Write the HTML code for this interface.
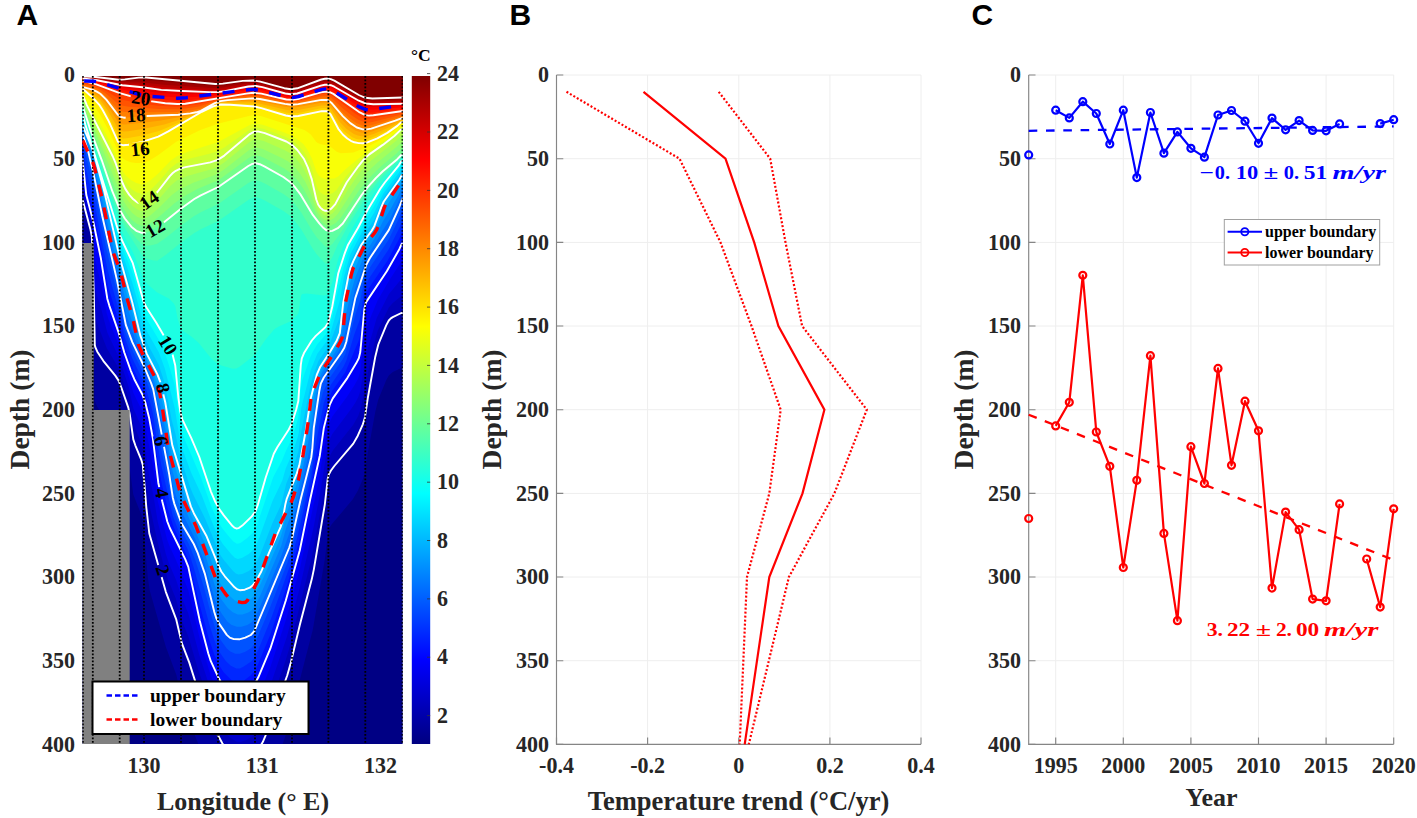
<!DOCTYPE html><html><head><meta charset="utf-8"><style>html,body{margin:0;padding:0;background:#fff;width:1417px;height:818px;overflow:hidden}svg{display:block}text{font-family:"Liberation Serif",serif;font-weight:bold;fill:#262626}.sans{font-family:"Liberation Sans",sans-serif}</style></head><body>
<svg width="1417" height="818" viewBox="0 0 1417 818">
<defs><clipPath id="ca"><rect x="82.3" y="76" width="320.5" height="668"/></clipPath>
<linearGradient id="cb" x1="0" y1="1" x2="0" y2="0">
<stop offset="0.0000" stop-color="#000080"/>
<stop offset="0.1250" stop-color="#0000ff"/>
<stop offset="0.2500" stop-color="#0080ff"/>
<stop offset="0.3750" stop-color="#00ffff"/>
<stop offset="0.5000" stop-color="#80ff80"/>
<stop offset="0.6250" stop-color="#ffff00"/>
<stop offset="0.7500" stop-color="#ff8000"/>
<stop offset="0.8750" stop-color="#ff0000"/>
<stop offset="1.0000" stop-color="#800000"/>
</linearGradient></defs>
<text class="sans" x="16.5" y="24.6" font-size="30" style="font-family:'Liberation Sans',sans-serif;fill:#000">A</text>
<text class="sans" x="509.5" y="24.6" font-size="30" style="font-family:'Liberation Sans',sans-serif;fill:#000">B</text>
<text class="sans" x="971.5" y="24.6" font-size="30" style="font-family:'Liberation Sans',sans-serif;fill:#000">C</text>
<g clip-path="url(#ca)">
<rect x="82.3" y="76" width="320.5" height="668" fill="#000084"/><path d="M82.3 75 L82.3 255 L90.3 283.9 L91.8 291.3 L93.8 348.6 L94.8 400 L95.3 402.2 L97.3 406.7 L103.3 415.8 L115.3 430.6 L118.3 435.1 L128.3 462.6 L129.8 469.5 L133.3 494.4 L141.3 514.8 L142.8 519.9 L147.8 577.3 L149.8 590.7 L165.8 646.8 L176.3 674.7 L181.3 696.6 L189.3 717.6 L194.8 735.2 L198.8 745 L282.3 744.8 L286.3 733.4 L290.3 719.6 L299.8 680 L312.8 629.8 L324.8 559.6 L328.3 531 L329.8 527.3 L331.8 524.3 L352.8 499.3 L357.8 490.7 L362.8 479.3 L364.8 473.1 L367.8 453 L375.3 411.7 L378.3 399.5 L386.3 380.1 L388.8 375.5 L392.8 372.1 L401.3 368 L402.8 368 L402.8 75Z" fill="#0000a1"/><path d="M82.3 75 L82.3 200 L90.3 228.9 L91.8 236.3 L93.8 293.6 L94.8 345 L95.3 347.2 L97.3 351.7 L103.3 360.8 L115.3 375.6 L118.3 380.1 L127.8 405.9 L129.8 414.5 L133.3 439.4 L141.3 459.8 L142.8 464.9 L148.3 527.1 L150.8 539.5 L165.8 591.8 L176.3 619.7 L181.3 641.6 L189.3 662.6 L194.3 678.8 L213.8 726.9 L223.3 745 L260.8 745 L263.8 739.9 L287.3 675.2 L311.8 579.1 L324.8 504.6 L327.8 478.4 L328.8 474.5 L330.8 470.7 L334.3 466 L353.3 443.6 L357.8 435.7 L362.8 424.3 L364.8 418.1 L367.8 398 L375.3 356.7 L378.3 344.5 L386.3 325.1 L388.8 320.5 L392.8 317.1 L401.3 313 L402.8 313 L402.8 75Z" fill="#0000b7"/><path d="M82.3 75 L82.3 189.4 L86.3 209.6 L91.8 231.2 L93.8 276.2 L94.8 315.9 L96.3 321.4 L106.8 348.2 L116.8 365 L119.8 371.7 L128.8 398.4 L133.3 423.8 L142.3 445.7 L143.3 450.2 L145.8 477.4 L148.8 502.3 L157.8 543 L164.8 569.4 L167.8 578.9 L175.8 598.6 L181.3 619 L188.3 636.6 L198.8 671.8 L211.8 707.5 L217.8 720.4 L224.8 732.3 L230.3 737.8 L236.8 741.7 L240.8 741.9 L246.3 740 L251.8 736.8 L256.3 732.7 L260.3 727.6 L262.8 723.3 L269.8 705.5 L284.8 663.1 L288.8 650 L311.8 557.3 L320.3 511.8 L325.3 481.4 L327.8 461.7 L328.8 457.9 L332.8 450.5 L353.3 424.8 L358.3 415.8 L360.8 408.6 L368.3 371 L375.8 337.4 L377.8 330.6 L388.8 307.4 L392.8 303 L401.3 296 L402.8 295.5 L402.8 75Z" fill="#0000cd"/><path d="M82.3 75 L82.3 178.8 L86.3 204.8 L91.8 226 L93.8 258.8 L94.8 286.9 L95.3 289.2 L101.8 310.9 L107.3 332.4 L118.8 357.2 L128.8 387.3 L133.3 408.2 L142.8 430.1 L148.8 473.7 L153.3 494.9 L157.8 521.9 L165.8 553.8 L168.8 562.9 L176.3 580.5 L181.3 596.4 L188.3 613.4 L199.3 655.1 L211.3 691.7 L218.3 706.6 L223.8 716.1 L229.8 722.3 L233.8 725.5 L236.8 727 L240.3 727.1 L244.3 725.4 L250.8 721.2 L255.3 716.9 L262.3 705.5 L269.8 687.1 L286.8 637 L300.3 585.6 L313.8 526.2 L320.3 492.2 L327.3 448.1 L328.8 441.2 L332.3 433.9 L350.8 409.6 L355.3 402.7 L358.3 397 L360.3 391 L364.3 364.8 L367.3 350.6 L376.8 317.7 L388.8 294.2 L401.8 278.4 L402.8 278 L402.8 75Z" fill="#0000e3"/><path d="M82.3 75 L82.3 168.2 L86.3 199.9 L91.3 218.8 L92.3 224.4 L94.8 257.9 L101.8 287.1 L106.8 313.5 L108.8 320.1 L118.8 345.2 L129.3 377.9 L133.3 392.7 L141.8 410.3 L143.3 414.4 L152.8 465.2 L157.8 500.9 L166.8 538.5 L169.3 545.5 L176.3 560.8 L188.3 590.2 L199.8 638.8 L210.8 675.9 L218.3 692 L222.8 699.8 L229.8 707.3 L233.8 710.7 L236.8 712.3 L239.3 712.5 L242.8 710.9 L250.3 705.3 L254.8 700.8 L262.3 686.7 L270.3 667.2 L286.3 618.7 L299.8 569 L319.3 477.9 L323.3 451.4 L329.3 423 L332.3 416.5 L346.8 397 L354.3 385.4 L358.3 378.2 L360.3 371.5 L364.3 337.1 L367.8 323.9 L377.8 300 L389.8 279.5 L401.8 261.1 L402.8 260.5 L402.8 75Z" fill="#0000f9"/><path d="M82.3 75 L82.3 157.6 L86.3 195.1 L93.3 221.8 L100.8 257.9 L107.3 298.7 L118.3 331.6 L124.3 352.5 L130.8 370.8 L134.3 379.2 L142.8 395.4 L145.3 402.6 L149.3 418.8 L152.8 438 L158.3 482.7 L162.3 501.5 L167.3 521.5 L169.8 528 L185.3 559.3 L188.3 566.9 L199.8 620.9 L208.3 653.5 L210.8 661.2 L218.8 678.3 L222.3 684.4 L231.8 694.2 L236.8 697.7 L239.3 697.7 L242.3 696 L250.8 688.6 L254.8 684.1 L258.3 677.3 L270.3 648.7 L285.8 600.5 L299.8 550.3 L310.3 498.7 L319.8 455.7 L323.8 428.1 L329.8 404.6 L332.8 398.4 L347.3 378.1 L358.8 358.2 L360.3 352 L364.3 309.5 L366.3 301.9 L386.8 271.3 L399.3 249.2 L401.8 243.7 L402.8 243 L402.8 75Z" fill="#0011ff"/><path d="M82.3 75 L82.3 151.8 L86.3 182.7 L92.3 205.3 L95.3 218.9 L101.8 250.9 L107.8 285.6 L117.8 318.5 L126.3 350.4 L133.3 368.9 L143.8 389.8 L148.3 404.9 L153.3 428.5 L158.3 465.9 L162.3 485.9 L167.8 509.1 L173.8 527.6 L188.3 558.9 L199.8 605.3 L208.8 638.8 L214.3 654.7 L219.3 665.4 L223.8 672.4 L230.8 679.5 L234.3 682 L236.8 683.1 L239.3 683.1 L242.8 681.4 L250.8 675.2 L254.3 671.4 L257.8 664.7 L270.3 634.7 L287.8 583 L299.3 540.5 L311.8 482.5 L313.8 469.1 L320.3 436.2 L323.3 417.6 L328.8 398.6 L332.3 390.8 L345.3 372.3 L358.8 340.4 L360.3 334.6 L364.3 299.7 L366.3 292.7 L369.3 287.4 L387.8 260.2 L398.8 239.6 L401.8 232.9 L402.8 232 L402.8 75Z" fill="#0027ff"/><path d="M82.3 75 L82.3 145.9 L86.3 170.2 L94.8 204.1 L107.3 268.4 L117.8 307 L124.8 337.3 L132.3 358.4 L144.3 383.1 L151.3 406.4 L153.3 415.5 L157.3 443.2 L161.8 467.8 L172.8 515.9 L179.8 533.9 L187.3 548.6 L189.3 553.6 L194.8 571.2 L210.3 627.8 L215.8 644.6 L220.3 653.3 L225.8 661 L230.8 665.7 L236.3 668.4 L239.8 668.4 L243.8 666.5 L250.8 661.8 L254.3 658 L257.8 650.9 L271.3 618.1 L289.8 566.3 L297.8 534.9 L311.3 475.7 L314.3 452.4 L323.8 402.8 L330.8 384.8 L343.3 366.9 L346.3 360.7 L354.3 334.4 L359.8 319.5 L364.3 290 L366.3 283.4 L369.8 277.2 L388.3 249.9 L398.8 229.1 L402.3 221 L402.8 221 L402.8 75Z" fill="#003dff"/><path d="M82.3 75 L82.3 140.1 L93.8 187.2 L106.8 251 L117.3 293.4 L125.8 332.9 L132.8 351.4 L144.8 376.2 L149.8 390.2 L152.8 400.4 L162.3 454.7 L173.8 510.5 L180.3 527.9 L188.8 543.9 L195.3 560 L204.3 588.5 L211.8 617.3 L216.3 632 L220.8 640.2 L226.8 648.5 L230.3 651.6 L235.3 653.7 L239.8 653.8 L245.3 651.7 L251.3 648 L254.8 643.8 L269.8 608 L287.3 563.1 L291.8 549.4 L311.3 466.4 L314.3 438.2 L319.8 404.9 L322.8 392.8 L330.3 377 L342.3 359.9 L345.3 354.3 L354.8 316.5 L360.3 299.9 L364.3 280.3 L366.8 273 L370.3 266.9 L388.8 239.6 L399.3 217.5 L402.3 210 L402.8 210 L402.8 75Z" fill="#0053ff"/><path d="M82.3 75 L82.3 134.3 L82.8 134.3 L88.3 151.7 L93.8 174.9 L102.3 216.2 L117.3 281.6 L125.8 324.9 L132.3 342.1 L144.8 368 L153.3 389.6 L169.3 474.9 L172.8 497.7 L174.3 503.6 L181.3 522.9 L193.8 544 L197.8 553.2 L204.8 573.6 L214.3 612 L216.3 618.3 L219.3 623.9 L226.8 634.9 L229.8 637.6 L233.8 639.1 L239.3 639.3 L245.3 637.7 L250.8 635 L254.3 631.2 L289.3 547.5 L291.8 539.4 L300.3 500.7 L311.3 457.2 L313.8 427.8 L320.8 383.6 L323.8 377.5 L341.3 352.8 L344.3 347.8 L346.3 341.7 L355.3 298.1 L366.3 264.9 L369.8 258.2 L388.8 230.1 L399.3 207 L402.3 199 L402.8 199 L402.8 75Z" fill="#0069ff"/><path d="M82.3 75 L82.3 132.2 L82.8 132.2 L88.3 148.6 L94.3 171.5 L116.8 270.9 L125.8 313.5 L136.8 344 L151.8 379.6 L153.8 385.6 L159.3 410.6 L168.8 460.4 L172.3 482.4 L174.3 490.8 L181.3 511 L195.8 540.3 L203.3 559.1 L214.8 599.5 L216.8 604.9 L221.3 613.1 L227.3 621.4 L231.3 624.7 L236.8 626.8 L241.3 626.8 L247.3 624.9 L251.3 622.6 L254.3 619.3 L259.8 607.5 L281.8 554.8 L291.8 526 L306.3 464.7 L311.8 439 L313.8 417.3 L318.8 388.1 L320.8 379.2 L323.3 374.2 L337.3 353.7 L340.3 348.3 L345.8 330 L354.8 289.6 L365.8 259.2 L368.3 254.3 L374.3 245.2 L382.3 231.1 L389.8 219.4 L402.3 193 L402.8 193 L402.8 75Z" fill="#0080ff"/><path d="M82.3 75 L82.3 130 L82.8 130 L88.3 145.6 L94.3 166 L126.3 303.8 L139.8 345.6 L153.3 378.1 L157.8 393.9 L165.3 428.5 L172.3 470.1 L175.3 481.2 L180.8 497.7 L189.8 520.3 L196.8 534.6 L204.3 551.9 L214.8 585.2 L217.8 592.7 L221.8 600 L227.8 607.9 L232.8 612.2 L237.8 614.5 L242.3 614.4 L248.3 612.5 L251.8 610.2 L254.8 606.5 L260.8 594.3 L281.3 545.8 L285.8 529 L291.8 512.6 L299.3 485.2 L306.8 449.8 L311.8 423.7 L314.3 403.9 L320.3 376.1 L322.8 371 L336.3 350.6 L339.8 344.1 L342.8 328.1 L351.3 291.3 L355.3 277.5 L362.3 259.9 L366.8 250.4 L374.8 238 L382.8 221.4 L390.3 209.6 L399.3 193.3 L401.8 187.8 L402.8 187 L402.8 75Z" fill="#0096ff"/><path d="M82.3 75 L82.3 127.9 L82.8 127.9 L88.8 143.8 L94.3 160.4 L104.3 199.9 L124.8 286.9 L139.3 338 L146.3 357.4 L154.3 374.8 L159.3 389.5 L165.3 415.5 L172.3 457.7 L180.3 484.2 L190.8 514.5 L205.3 544.1 L215.3 572.2 L219.8 582.6 L223.3 588.3 L229.3 595.5 L234.8 600.5 L238.8 602.3 L243.3 602.1 L248.8 600.3 L251.8 598.2 L254.8 594.6 L260.8 583.5 L280.8 536.8 L282.8 530.1 L286.3 513.9 L292.8 496.3 L299.3 475.2 L305.8 442.7 L313.8 396.2 L317.8 379.1 L321.3 369.4 L336.3 345.9 L339.8 338.6 L343.3 314 L349.3 285.7 L352.3 275.5 L361.3 253.5 L365.8 245.3 L374.3 232.6 L383.3 211.5 L398.3 188.1 L401.8 181.5 L402.8 181 L402.8 75Z" fill="#00acff"/><path d="M82.3 75 L82.3 125.8 L82.8 125.8 L91.8 147.5 L95.3 158.4 L104.3 191.5 L118.8 253.9 L132.3 302.6 L140.3 335.4 L146.8 353.9 L157.3 374.1 L160.3 382.1 L165.3 402.5 L172.3 445.3 L190.8 506.4 L193.8 513.2 L206.3 535.7 L221.3 571.5 L224.8 576.3 L234.3 587.1 L237.3 589.4 L239.8 590.2 L244.8 589.7 L249.8 587.7 L252.8 585.2 L256.8 579.7 L261.3 571.5 L269.3 552.1 L280.8 526.6 L282.3 521.6 L286.8 498.6 L296.8 473.4 L299.3 465.3 L305.8 430.6 L310.8 398 L316.8 374.7 L320.3 366.7 L336.8 340.4 L339.8 333.2 L343.3 302.1 L350.3 268.4 L361.3 244.9 L371.8 230.5 L374.3 226.2 L383.8 201.5 L399.3 179.7 L401.8 175.2 L402.8 175 L402.8 75Z" fill="#00c2ff"/><path d="M82.3 75 L82.3 123 L82.8 123 L94.8 156.2 L104.3 190.1 L118.8 248.5 L132.3 292.4 L141.8 329 L147.3 343.5 L158.8 364.9 L163.3 378.8 L165.3 386.4 L171.8 420.4 L175.3 433.3 L180.3 456.9 L189.8 486.2 L192.8 493.8 L205.3 518.9 L220.3 554.9 L223.8 560.1 L232.8 570.7 L235.8 573.4 L238.3 574.5 L242.3 574 L248.8 571.1 L252.3 568.3 L255.8 563.6 L260.3 554.3 L272.3 523.5 L281.3 504.1 L286.3 483.5 L293.3 466.4 L298.3 452.1 L301.3 431.4 L310.3 386.3 L312.8 376.8 L318.3 361.3 L327.3 348.1 L329.8 343.5 L339.8 316.9 L343.3 291 L348.3 268.5 L350.8 260.1 L361.8 238.2 L373.8 220.3 L383.8 197.1 L398.8 176.6 L401.8 171.5 L402.8 171.4 L402.8 75Z" fill="#00d8ff"/><path d="M82.3 75 L82.3 120.3 L82.8 120.3 L94.3 154.2 L104.3 188.6 L118.8 243.1 L132.8 283.9 L142.8 321.2 L147.3 332 L158.8 352.3 L164.8 368.6 L174.8 408.4 L179.8 439.3 L182.8 450.3 L191.3 473 L201.8 495.6 L212.3 522.7 L218.8 537.4 L222.8 543.9 L231.3 554.2 L234.8 557.8 L237.8 559.1 L241.8 558.1 L248.8 553.9 L252.8 550.3 L255.8 545.9 L259.3 537.7 L272.3 501.6 L282.3 480.6 L285.8 468.2 L292.3 453.4 L297.8 437.1 L298.8 432.4 L301.3 407.8 L310.8 370 L317.3 353.8 L327.3 340.3 L330.3 333.4 L339.8 300.6 L343.8 277.6 L350.3 254.5 L362.8 230.5 L374.3 212.4 L383.3 193.5 L398.8 172.9 L401.8 167.9 L402.8 167.8 L402.8 75Z" fill="#00eeff"/><path d="M82.3 75 L82.3 117.5 L82.8 117.5 L94.3 153.9 L119.3 239.3 L133.3 275.1 L143.3 311.7 L146.8 319.5 L159.8 341.6 L164.8 352.9 L168.8 364.8 L174.8 385.6 L178.8 417.4 L180.8 429 L182.3 434.1 L200.3 475.9 L211.3 506.5 L217.3 519.9 L221.3 526.9 L227.8 535.2 L233.3 541.6 L236.8 543.7 L238.8 543.6 L240.8 542.7 L247.3 537.9 L252.3 533.3 L255.8 528.3 L273.3 477.1 L281.8 461.1 L285.8 451.2 L292.3 437.8 L298.3 418.1 L300.8 388.1 L302.3 379.9 L310.3 357.2 L312.8 351.7 L317.3 344.2 L325.8 334.6 L328.8 329.3 L332.8 314.7 L337.3 293.1 L340.3 282.6 L343.3 268.7 L346.8 256.7 L349.8 248.6 L363.8 222.8 L373.8 206.4 L382.3 190.5 L398.8 169.1 L401.8 164.2 L402.8 164.2 L402.8 75Z" fill="#06fff9"/><path d="M82.3 75 L82.3 114.8 L82.8 114.8 L85.3 124.5 L118.3 230.8 L121.8 240 L132.8 263.2 L143.8 302.2 L146.3 307.3 L156.3 322.8 L166.8 340.8 L169.8 347.1 L172.8 355.5 L175.3 365.8 L178.3 397 L180.3 411.5 L182.3 419.3 L191.3 438.2 L199.3 457 L210.8 491.3 L215.3 501.8 L219.3 509.1 L223.8 515.4 L232.3 525.8 L234.3 527.6 L236.3 528.5 L238.8 528.1 L242.3 525.6 L251.8 516.4 L255.3 511.6 L257.8 505 L265.8 477.3 L273.8 453.8 L277.3 447.2 L288.8 429.5 L291.8 423.5 L298.3 401.1 L300.8 364.9 L301.8 358.3 L304.3 352.4 L311.8 340.5 L315.8 335.9 L325.3 327.2 L328.3 322.4 L332.3 306.4 L338.3 273.2 L347.8 245.3 L357.8 228.2 L366.8 211.2 L380.3 188.7 L398.8 165.3 L401.8 160.6 L402.8 160.6 L402.8 75Z" fill="#1cffe3"/><path d="M82.3 75 L82.3 112 L82.8 112 L90.3 137.1 L118.8 224.2 L122.8 233.4 L133.3 252.9 L143.8 279.7 L147.3 284 L156.8 292.3 L168.8 298.6 L173.8 303.5 L175.3 306.5 L177.3 317.2 L179.8 325.9 L180.8 328.5 L182.3 330.4 L191.3 336.6 L198.8 343 L210.8 358 L215.3 362.2 L221.3 365.6 L232.8 368.7 L236.3 368.5 L239.3 367.1 L255.3 354.5 L265.3 339.9 L274.3 329.3 L278.8 326.6 L290.8 321.2 L296.3 316 L297.8 314.2 L298.8 311.8 L300.8 296.9 L301.3 295.1 L302.3 293.9 L306.8 293.4 L323.8 295.5 L325.8 295.2 L327.8 293.4 L329.8 289.5 L332.3 281.9 L338.3 258.4 L348.8 233.9 L366.3 204.6 L379.3 185.2 L384.3 178.9 L398.3 163.5 L401.3 159.3 L402.8 158.8 L402.8 75Z" fill="#32ffcd"/><path d="M82.3 75 L82.3 109.2 L82.8 109.2 L89.8 132.1 L112.3 198.3 L120.8 220.7 L125.8 229.8 L142.3 255.6 L145.8 258.5 L152.3 260.2 L157.3 260.7 L165.3 255.2 L181.8 241.9 L194.3 233 L200.8 229.3 L218.3 221 L248.3 200 L252.3 197.9 L255.8 197.3 L259.8 198.2 L265.3 200.8 L283.8 211.3 L290.3 216.1 L294.8 221 L301.3 229.6 L312.3 248.1 L316.8 254.4 L324.8 263.1 L325.8 263.7 L327.8 263.3 L329.8 261.5 L332.3 257.3 L337.8 244.6 L348.8 224.6 L366.3 197 L381.3 177.7 L397.3 162 L401.3 157.2 L402.8 157 L402.8 75Z" fill="#48ffb7"/><path d="M82.3 75 L82.3 107.7 L82.8 107.7 L90.3 131.8 L101.8 163.4 L112.3 194.7 L120.3 215.1 L126.8 226.4 L135.8 238 L141.8 244 L145.8 245.7 L150.3 245.4 L157.3 243.7 L165.3 238.2 L181.8 224.9 L194.3 216 L200.8 212.3 L218.3 204 L248.3 183 L252.3 180.9 L255.8 180.3 L259.8 181.2 L265.3 183.8 L283.8 194.3 L290.3 199.1 L294.8 204 L301.3 212.6 L312.3 231.1 L316.8 237.4 L324.8 246.1 L326.8 247 L328.8 246.9 L332.8 243.6 L341.8 231.2 L359.3 203.1 L370.8 187.3 L382.3 174.2 L396.8 161.1 L401.3 156.1 L402.8 156 L402.8 75Z" fill="#5effa1"/><path d="M82.3 75 L82.3 106.2 L82.8 106.2 L90.3 129.9 L101.8 160.3 L112.3 191.2 L120.3 210.6 L124.8 218.5 L131.3 226.7 L136.3 230.8 L141.8 232.9 L146.8 232.5 L153.3 229.3 L164.3 222 L181.8 207.9 L194.3 199 L200.8 195.3 L218.3 187 L248.3 166 L252.3 163.9 L255.8 163.3 L259.8 164.2 L264.8 166.6 L283.3 177 L289.8 181.7 L294.3 186.4 L300.8 194.9 L312.8 214.9 L319.3 223.4 L326.3 230.2 L329.3 231.2 L332.3 230.9 L337.8 228.2 L342.8 223.5 L361.8 194.8 L375.8 178.1 L382.8 171.2 L397.3 159.2 L401.3 155 L402.8 155 L402.8 75Z" fill="#74ff8b"/><path d="M82.3 75 L82.3 103.8 L82.8 103.8 L83.3 105 L91.3 128 L121.8 205.4 L126.3 213.1 L131.8 219.9 L136.8 223.8 L141.8 225.7 L146.3 225.3 L151.3 222.6 L160.8 215.3 L174.8 203 L184.8 196.1 L197.3 189.1 L218.8 179.9 L248.3 158.3 L252.3 156.1 L255.8 155.4 L259.8 156 L266.3 158.9 L284.3 168.4 L291.3 173.4 L297.8 180.7 L303.8 189.2 L309.3 199.6 L315.8 213.8 L318.3 217.9 L321.8 221.9 L325.3 224.8 L327.8 225.8 L330.8 225.7 L335.8 222.9 L340.8 217.7 L359.3 190 L368.8 178.2 L381.3 165.9 L396.8 153.3 L401.3 148.6 L402.8 148.6 L402.8 75Z" fill="#8bff74"/><path d="M82.3 75 L82.3 101.3 L83.3 102.1 L88.3 116 L102.8 149.8 L123.3 200.5 L127.3 207 L132.3 213 L137.3 216.9 L141.8 218.5 L145.8 218.1 L150.8 215.1 L158.8 208 L171.8 195 L178.8 189.8 L193.8 182.4 L212.8 175.8 L218.3 173.3 L224.8 169 L248.8 150.3 L252.8 148 L256.3 147.4 L262.8 149 L281.8 157.9 L288.3 161.5 L293.3 165.6 L300.3 173.9 L305.3 181.7 L310.8 193.8 L316.3 209.7 L318.3 213.5 L321.3 217.2 L324.3 219.6 L327.3 220.7 L329.8 220.5 L333.8 218.2 L337.8 214 L355.8 186.6 L366.3 172.9 L377.8 162.2 L396.8 146.8 L401.3 142.2 L402.8 142.2 L402.8 75Z" fill="#a1ff5e"/><path d="M82.3 75 L82.3 98.9 L83.3 99.3 L87.3 109.8 L112.8 165.5 L124.3 194.7 L128.3 201 L132.8 206.2 L137.3 209.6 L141.8 211.3 L145.8 210.7 L150.3 207.7 L157.8 200.3 L170.8 185.4 L176.8 180.6 L187.3 176 L212.3 168.9 L218.3 166.5 L224.8 162.1 L249.3 142.2 L253.3 140 L256.8 139.4 L263.8 141.1 L284.3 149.9 L290.3 153.3 L295.3 157.8 L302.3 166.5 L306.8 174.8 L311.3 186.3 L316.3 204.6 L318.3 209.2 L320.8 212.4 L323.8 214.8 L326.3 215.7 L328.8 215.5 L332.3 213.5 L336.3 209.2 L348.3 188.9 L359.3 173.3 L364.8 166.5 L371.8 160.1 L396.3 140.8 L401.3 135.8 L402.8 135.8 L402.8 75Z" fill="#b7ff48"/><path d="M82.3 75 L82.3 96.4 L83.3 96.4 L86.8 105.1 L112.8 156.5 L122.3 182.5 L125.3 188.9 L129.3 194.9 L133.3 199.3 L137.8 202.7 L141.8 204.1 L145.8 203.4 L150.3 199.9 L157.8 191.5 L169.8 176.1 L175.8 170.8 L179.8 168.8 L184.3 167.4 L210.3 162.4 L217.8 159.9 L224.3 155.6 L249.8 134.1 L253.8 131.9 L257.8 131.4 L264.8 133.1 L286.3 141.5 L292.3 145.1 L297.3 150 L303.8 158.7 L307.8 167.4 L311.8 179.4 L316.3 199.5 L318.3 204.8 L320.3 207.6 L322.8 209.8 L325.3 210.8 L327.8 210.7 L331.3 208.6 L335.3 204.1 L346.8 182.3 L363.8 159.4 L369.3 154.4 L394.3 136 L401.3 129.4 L402.8 129.4 L402.8 75Z" fill="#cdff32"/><path d="M82.3 75 L82.3 95.3 L83.3 95.3 L85.8 101.2 L99.3 125.7 L110.3 147 L114.8 156.9 L121.8 175.4 L124.3 180.4 L127.8 185.2 L132.3 189.7 L136.8 192.6 L141.3 194.1 L145.8 193.4 L150.3 190.2 L157.8 182.8 L170.3 168.3 L176.3 163.5 L185.3 159.8 L211.3 153.3 L217.8 151.1 L224.3 147.4 L249.3 129.9 L253.3 128 L256.8 127.5 L263.8 128.9 L285.8 137.1 L291.8 140.2 L297.3 144.6 L303.8 151.6 L307.8 158.8 L311.8 168.8 L316.3 185.6 L318.3 189.9 L320.8 192.7 L323.3 194.2 L325.8 194.9 L328.8 194.6 L332.8 192.9 L336.3 190.2 L346.3 175.9 L364.3 156.4 L389.3 138.6 L397.3 132.3 L401.3 128.2 L402.8 128.2 L402.8 75Z" fill="#e3ff1c"/><path d="M82.3 75 L82.3 94.3 L83.3 94.3 L85.8 99.5 L102.8 128.1 L111.8 145.9 L119.8 165.3 L123.3 172.2 L126.8 176.6 L131.3 180.3 L136.3 183 L140.8 184.2 L145.3 183.6 L150.3 180.6 L158.3 173.5 L170.8 160.6 L177.3 155.9 L187.8 151.7 L218.3 142.1 L248.8 125.6 L252.3 124.1 L255.8 123.5 L262.8 124.8 L282.3 131.7 L290.3 134.9 L296.3 138.4 L303.3 144.1 L307.3 149.4 L311.8 158.2 L316.3 171.6 L318.8 175.6 L321.3 177.4 L324.8 178.7 L334.3 178.5 L338.3 176.5 L345.8 169 L364.3 153.8 L386.8 139.1 L396.8 131.5 L401.3 127.1 L402.8 127 L402.8 75Z" fill="#f9ff06"/><path d="M82.3 75 L82.3 92 L83.3 92 L83.8 92.6 L95.3 107.5 L100.8 115.7 L109.3 131.5 L117.8 150.8 L120.8 156.1 L123.3 158.7 L126.3 160.6 L130.8 162.2 L135.8 163.1 L142.8 163 L148.8 160.9 L158.3 155.1 L175.8 142 L200.3 130.1 L218.8 123.4 L250.8 115.4 L255.8 115.2 L260.8 116.1 L303.8 129.7 L306.8 131.4 L310.8 134.6 L316.3 141.9 L317.8 143.1 L320.8 144.2 L329.3 145.8 L336.8 151.8 L340.8 153.2 L353.3 152.5 L366.8 147.3 L384.8 137.5 L396.3 129.3 L401.3 124.6 L402.8 124.5 L402.8 75Z" fill="#ffee00"/><path d="M82.3 75 L82.3 89.7 L83.8 89.8 L92.3 97.2 L99.3 104.8 L108.8 121.4 L117.8 141.3 L120.3 144.3 L123.3 145.3 L128.3 144.8 L142.3 141.9 L158.3 136.6 L168.3 131.4 L201.8 111.8 L213.8 106.2 L220.8 104.5 L230.3 104.7 L254.3 106.5 L285.8 115.5 L291.8 116.5 L298.3 116 L321.8 111.1 L326.8 111.2 L328.8 112.3 L330.8 114.7 L338.3 128.8 L342.8 134.5 L350.8 140.8 L354.3 142.3 L358.8 143.1 L366.8 142.6 L377.3 138.3 L387.3 132.9 L397.3 125.9 L401.3 122.1 L402.8 122 L402.8 75Z" fill="#ffd800"/><path d="M82.3 75 L82.3 89.1 L83.8 89.1 L92.3 95.3 L99.3 101.9 L102.8 106.6 L108.3 115.8 L117.8 134.7 L120.3 137.4 L123.3 138.4 L128.3 138 L142.3 135.5 L159.8 130.8 L180.8 121.8 L213.3 105.8 L217.8 104.2 L222.3 103.5 L246.3 103.9 L254.8 104.6 L285.8 112.6 L291.8 113.5 L298.3 113 L321.3 108.3 L326.3 108.3 L328.3 109.1 L330.3 110.9 L338.8 125.1 L344.3 131.4 L352.3 137.3 L356.3 138.9 L360.3 139.6 L367.3 139.2 L375.8 136 L386.8 130.8 L397.3 124.4 L401.3 121.1 L402.8 121.1 L402.8 75Z" fill="#ffc200"/><path d="M82.3 75 L82.3 88.5 L83.8 88.5 L92.3 93.4 L99.8 99.5 L107.8 110.4 L117.8 128.1 L120.3 130.5 L123.3 131.4 L128.3 131.2 L143.8 128.8 L164.3 124.5 L180.3 119.6 L194.3 114.4 L216.3 103.9 L220.3 102.8 L224.8 102.4 L247.8 102.2 L255.3 102.6 L285.8 109.8 L291.8 110.6 L298.3 110.1 L321.3 105.5 L326.3 105.5 L328.8 106.5 L330.8 108.5 L339.8 121.9 L346.3 128.7 L353.8 133.9 L357.8 135.5 L361.8 136.2 L367.3 135.9 L374.3 133.7 L388.8 127.4 L397.8 122.7 L401.3 120.2 L402.8 120.1 L402.8 75Z" fill="#ffac00"/><path d="M82.3 75 L82.3 87.9 L83.8 87.9 L92.8 91.8 L100.3 96.9 L107.3 105.2 L117.8 121.4 L120.3 123.6 L123.3 124.5 L128.8 124.3 L159.3 120.7 L182.8 116.6 L199.3 111.9 L214.8 103.8 L220.3 102 L248.8 100.4 L258.8 101 L284.8 106.7 L291.3 107.6 L298.3 107.1 L321.3 102.7 L326.8 102.8 L330.8 105.3 L340.8 118.5 L347.8 125.4 L355.3 130.6 L362.3 132.8 L367.3 132.7 L372.8 131.2 L389.8 124.8 L401.3 119.2 L402.8 119.2 L402.8 75Z" fill="#ff9600"/><path d="M82.3 75 L82.3 87.3 L84.3 87.4 L92.3 89.6 L100.3 93.8 L106.3 99.6 L117.8 114.8 L120.8 116.9 L123.8 117.7 L146.8 116 L178.3 114.8 L190.3 113.4 L200.8 110.9 L214.8 103.1 L220.3 101.1 L227.8 100.1 L252.3 98.4 L259.8 99 L284.8 103.9 L291.3 104.7 L298.3 104.1 L321.3 99.9 L326.8 100 L331.3 102.7 L342.8 116.1 L350.3 123.1 L356.8 127.5 L362.8 129.4 L366.8 129.4 L371.3 128.6 L395.3 120.7 L401.3 118.3 L402.8 118.3 L402.8 75Z" fill="#ff8000"/><path d="M82.3 75 L82.3 85.7 L84.3 85.8 L92.3 88 L99.8 91.5 L106.3 96.7 L117.8 109.2 L120.8 111.1 L124.8 112 L171.3 112.3 L184.8 111.6 L199.8 108.8 L214.8 102.1 L220.3 100.3 L248.8 97.2 L258.8 97.5 L285.3 102.8 L291.8 103.5 L297.8 102.9 L319.3 98.4 L324.8 97.7 L327.8 98.2 L330.3 99.5 L343.3 112.7 L348.8 117.6 L356.3 123 L362.3 125.4 L366.3 125.9 L371.3 125.3 L401.3 116.5 L402.8 116.5 L402.8 75Z" fill="#ff6900"/><path d="M82.3 75 L82.3 84.1 L84.3 84.2 L91.3 86.1 L98.3 88.8 L105.3 93 L118.8 104.3 L122.8 105.8 L129.3 106.8 L158.8 109 L180.3 109.3 L198.8 106.6 L220.8 99.5 L248.8 95.9 L258.8 96 L284.8 101.5 L291.8 102.3 L297.8 101.7 L319.8 96.4 L325.3 95.7 L328.3 96.2 L331.3 97.8 L343.8 109.2 L351.8 115.6 L358.3 119.8 L363.8 122 L367.8 122.4 L372.3 121.9 L400.8 114.8 L402.8 114.6 L402.8 75Z" fill="#ff5300"/><path d="M82.3 75 L82.3 82.6 L84.3 82.6 L99.3 87.3 L105.8 90.7 L117.3 97.8 L121.8 99.7 L140.8 103.4 L158.3 105.7 L175.8 106.7 L185.3 106.3 L199.8 103.9 L221.3 98.7 L252.8 94.2 L260.8 94.9 L286.3 100.6 L293.3 101.1 L299.8 99.9 L320.8 94.3 L325.8 93.6 L328.8 94.1 L331.8 95.6 L354.3 113 L360.3 116.8 L364.8 118.6 L368.3 119 L372.8 118.6 L402.8 112.8 L402.8 75Z" fill="#ff3d00"/><path d="M82.3 75 L82.3 81 L84.3 81 L96.3 84.4 L119.8 93.2 L137.3 98.2 L150.3 101.1 L165.3 103.2 L177.3 104 L185.3 103.7 L246.3 93.6 L253.3 92.8 L261.3 93.6 L286.3 99.5 L292.8 99.9 L299.3 98.7 L320.8 92.4 L326.3 91.6 L329.8 92.2 L333.3 93.9 L358.8 111.8 L365.3 115.1 L368.8 115.6 L373.3 115.3 L402.8 111 L402.8 75Z" fill="#ff2700"/><path d="M82.3 75 L82.3 80.4 L84.3 80.4 L95.8 83.2 L120.3 91.3 L140.3 96 L158.8 99.3 L176.3 100.7 L186.3 100.5 L213.8 97.5 L253.3 91.1 L261.3 91.9 L286.3 98 L292.8 98.5 L299.3 97.3 L321.3 90.5 L327.3 89.9 L330.3 90.6 L333.8 92.3 L358.8 109 L365.3 112.1 L368.8 112.7 L373.3 112.6 L402.8 109.2 L402.8 75Z" fill="#ff1100"/><path d="M82.3 75 L82.3 79.8 L96.3 82.3 L117.8 88.6 L128.8 90.9 L157.8 95.9 L177.3 97.4 L187.8 97.3 L216.3 95.5 L247.3 90 L253.8 89.4 L261.3 90.3 L286.3 96.6 L292.8 97.1 L299.3 95.8 L321.3 88.9 L327.3 88.1 L330.3 88.7 L333.8 90.3 L358.8 106.2 L365.3 109.2 L373.3 109.8 L402.8 107.3 L402.8 75Z" fill="#f90000"/><path d="M82.3 75 L82.3 79.1 L96.8 81.4 L124.8 87.9 L159.8 93 L179.8 94.2 L217.3 93.7 L247.8 88.2 L254.3 87.6 L261.8 88.7 L285.8 95 L292.3 95.7 L299.3 94.4 L321.8 87.1 L327.8 86.4 L334.3 88.6 L358.8 103.5 L365.8 106.4 L373.3 107 L402.8 105.5 L402.8 75Z" fill="#e30000"/><path d="M82.3 75 L82.3 78.5 L96.8 80.3 L122.3 85.3 L142.3 87.3 L161.3 89.9 L182.3 91 L217.8 92.1 L248.3 86.5 L255.8 86 L262.3 87.1 L285.3 93.5 L290.8 94.3 L297.3 93.5 L320.8 85.6 L327.8 84.6 L334.3 86.7 L358.8 100.7 L365.8 103.5 L373.3 104.3 L402.8 103.7 L402.8 75Z" fill="#cd0000"/><path d="M82.3 75 L82.3 77.9 L96.3 79.5 L121.3 83.8 L142.3 84.8 L166.8 87.6 L210.3 90 L220.8 89.8 L246.8 85.2 L255.3 84.6 L262.3 85.9 L285.3 92.2 L290.8 93 L297.3 92.2 L321.3 84 L327.8 83.1 L334.3 85.2 L358.8 99.2 L365.8 102.1 L373.3 102.8 L402.8 102.1 L402.8 75Z" fill="#b70000"/><path d="M82.3 75 L82.3 77.3 L96.3 78.6 L119.3 82.3 L142.8 82.4 L166.8 84.9 L212.8 88.1 L221.3 87.7 L245.3 83.8 L254.8 83.3 L261.8 84.5 L285.3 91 L290.8 91.8 L297.3 90.9 L321.3 82.5 L327.8 81.6 L330.8 82.2 L334.3 83.6 L358.8 97.8 L365.8 100.7 L373.3 101.4 L402.8 100.6 L402.8 75Z" fill="#a10000"/><path d="M82.3 75 L82.3 76.8 L96.3 77.8 L118.3 80.9 L144.3 79.9 L213.8 86 L222.3 85.7 L245.3 82.3 L254.3 81.9 L261.8 83.2 L285.3 89.7 L290.8 90.5 L297.3 89.6 L321.3 81 L327.8 80 L330.8 80.6 L334.3 82.1 L358.8 96.4 L365.3 99.2 L372.8 100 L402.8 99 L402.8 75Z" fill="#8b0000"/><path d="M82.3 75 L82.3 76.2 L95.8 77 L118.8 79.7 L138.8 77.6 L146.3 77.5 L215.3 84 L222.8 83.6 L242.8 80.9 L253.3 80.5 L260.3 81.6 L284.3 88.2 L290.8 89.3 L297.3 88.3 L321.3 79.5 L327.8 78.5 L330.8 79.1 L334.3 80.6 L358.8 95 L365.3 97.8 L372.3 98.5 L402.8 97.5 L402.8 75Z" fill="#800000"/>
<mask id="lm" maskUnits="userSpaceOnUse" x="0" y="0" width="1417" height="818"><rect x="0" y="0" width="1417" height="818" fill="#fff"/><rect x="130.5" y="91" width="21" height="14" fill="#000" transform="rotate(8 141 98)"/><rect x="125.5" y="108" width="21" height="14" fill="#000" transform="rotate(-4 136 115)"/><rect x="129.5" y="142" width="21" height="14" fill="#000" transform="rotate(-6 140 149)"/><rect x="138.5" y="193" width="21" height="14" fill="#000" transform="rotate(-35 149 200)"/><rect x="144.5" y="221" width="21" height="14" fill="#000" transform="rotate(-30 155 228)"/><rect x="157.5" y="338" width="21" height="14" fill="#000" transform="rotate(58 168 345)"/><rect x="156.8" y="381" width="12.5" height="14" fill="#000" transform="rotate(78 163 388)"/><rect x="154.8" y="434" width="12.5" height="14" fill="#000" transform="rotate(78 161 441)"/><rect x="155.8" y="486" width="12.5" height="14" fill="#000" transform="rotate(80 162 493)"/><rect x="156.8" y="563" width="12.5" height="14" fill="#000" transform="rotate(72 163 570)"/></mask>
<path d="M82.3 76.2 L95.8 77 L118.8 79.7 L124.8 79.4 L138.8 77.6 L146.3 77.5 L215.3 84 L222.8 83.6 L242.8 80.9 L253.3 80.5 L260.3 81.6 L284.3 88.2 L290.8 89.3 L297.3 88.3 L321.3 79.5 L324.8 78.7 L327.8 78.5 L330.8 79.1 L334.3 80.6 L358.8 95 L365.3 97.8 L372.3 98.5 L402.8 97.5 M82.3 78.5 L96.8 80.3 L122.3 85.3 L142.3 87.3 L161.3 89.9 L182.3 91 L209.8 92.1 L217.8 92.1 L224.8 91.1 L248.3 86.5 L255.8 86 L262.3 87.1 L285.3 93.5 L290.8 94.3 L297.3 93.5 L320.8 85.6 L324.8 84.7 L327.8 84.6 L330.8 85.2 L334.3 86.7 L358.8 100.7 L365.8 103.5 L373.3 104.3 L402.8 103.7 M82.3 81 L84.3 81 L96.3 84.4 L119.8 93.2 L137.3 98.2 L150.3 101.1 L165.3 103.2 L177.3 104 L185.3 103.7 L246.3 93.6 L253.3 92.8 L261.3 93.6 L286.3 99.5 L292.8 99.9 L299.3 98.7 L320.8 92.4 L326.3 91.6 L329.8 92.2 L333.3 93.9 L358.8 111.8 L365.3 115.1 L368.8 115.6 L373.3 115.3 L402.8 111 M82.3 87.3 L84.3 87.4 L92.3 89.6 L96.3 91.4 L100.3 93.8 L106.3 99.6 L117.8 114.8 L120.8 116.9 L123.8 117.7 L146.8 116 L178.3 114.8 L190.3 113.4 L196.3 112.3 L200.8 110.9 L214.8 103.1 L220.3 101.1 L227.8 100.1 L252.3 98.4 L259.8 99 L284.8 103.9 L291.3 104.7 L298.3 104.1 L321.3 99.9 L326.8 100 L328.8 100.8 L331.3 102.7 L342.8 116.1 L350.3 123.1 L356.8 127.5 L362.8 129.4 L366.8 129.4 L371.3 128.6 L395.3 120.7 L401.3 118.3 L402.8 118.3 M82.3 89.7 L83.8 89.8 L92.3 97.2 L99.3 104.8 L102.8 110.2 L108.8 121.4 L117.8 141.3 L120.3 144.3 L123.3 145.3 L128.3 144.8 L142.3 141.9 L158.3 136.6 L168.3 131.4 L201.8 111.8 L213.8 106.2 L220.8 104.5 L230.3 104.7 L254.3 106.5 L261.3 108.1 L285.8 115.5 L291.8 116.5 L298.3 116 L321.8 111.1 L326.8 111.2 L328.8 112.3 L330.8 114.7 L338.3 128.8 L342.8 134.5 L347.3 138.5 L350.8 140.8 L354.3 142.3 L358.8 143.1 L362.8 143.2 L366.8 142.6 L377.3 138.3 L387.3 132.9 L397.3 125.9 L401.3 122.1 L402.8 122 M82.3 96.4 L83.3 96.4 L86.8 105.1 L112.8 156.5 L115.8 163.7 L122.3 182.5 L125.3 188.9 L129.3 194.9 L133.3 199.3 L137.8 202.7 L141.8 204.1 L143.8 204.1 L145.8 203.4 L150.3 199.9 L157.8 191.5 L169.8 176.1 L172.8 173 L175.8 170.8 L179.8 168.8 L184.3 167.4 L210.3 162.4 L217.8 159.9 L224.3 155.6 L249.8 134.1 L253.8 131.9 L257.8 131.4 L264.8 133.1 L286.3 141.5 L292.3 145.1 L297.3 150 L303.8 158.7 L307.8 167.4 L311.8 179.4 L316.3 199.5 L318.3 204.8 L320.3 207.6 L322.8 209.8 L325.3 210.8 L327.8 210.7 L331.3 208.6 L335.3 204.1 L346.8 182.3 L358.3 166.3 L363.8 159.4 L369.3 154.4 L382.8 144.9 L394.3 136 L401.3 129.4 L402.8 129.4 M82.3 106.2 L82.8 106.2 L90.3 129.9 L101.8 160.3 L112.3 191.2 L120.3 210.6 L124.8 218.5 L131.3 226.7 L136.3 230.8 L141.8 232.9 L146.8 232.5 L153.3 229.3 L164.3 222 L181.8 207.9 L194.3 199 L200.8 195.3 L218.3 187 L248.3 166 L252.3 163.9 L255.8 163.3 L259.8 164.2 L264.8 166.6 L283.3 177 L289.8 181.7 L294.3 186.4 L300.8 194.9 L312.8 214.9 L319.3 223.4 L323.3 227.8 L326.3 230.2 L329.3 231.2 L332.3 230.9 L337.8 228.2 L342.8 223.5 L361.8 194.8 L367.3 187.7 L375.8 178.1 L382.8 171.2 L397.3 159.2 L401.3 155 L402.8 155 M82.3 114.8 L82.8 114.8 L85.3 124.5 L118.3 230.8 L121.8 240 L132.8 263.2 L143.8 302.2 L146.3 307.3 L156.3 322.8 L166.8 340.8 L169.8 347.1 L172.8 355.5 L175.3 365.8 L178.3 397 L180.3 411.5 L182.3 419.3 L191.3 438.2 L199.3 457 L210.8 491.3 L215.3 501.8 L219.3 509.1 L223.8 515.4 L232.3 525.8 L234.3 527.6 L236.3 528.5 L238.8 528.1 L242.3 525.6 L251.8 516.4 L255.3 511.6 L257.8 505 L265.8 477.3 L273.8 453.8 L277.3 447.2 L288.8 429.5 L291.8 423.5 L296.3 409.2 L298.3 401.1 L300.8 364.9 L301.8 358.3 L304.3 352.4 L311.8 340.5 L315.8 335.9 L325.3 327.2 L328.3 322.4 L332.3 306.4 L338.3 273.2 L344.8 253.1 L347.8 245.3 L357.8 228.2 L366.8 211.2 L380.3 188.7 L384.8 182.5 L398.8 165.3 L401.8 160.6 L402.8 160.6 M82.3 125.8 L82.8 125.8 L91.8 147.5 L95.3 158.4 L104.3 191.5 L118.8 253.9 L132.3 302.6 L140.3 335.4 L146.8 353.9 L157.3 374.1 L160.3 382.1 L165.3 402.5 L172.3 445.3 L190.8 506.4 L193.8 513.2 L206.3 535.7 L218.8 566.4 L221.3 571.5 L224.8 576.3 L234.3 587.1 L237.3 589.4 L239.8 590.2 L244.8 589.7 L249.8 587.7 L252.8 585.2 L256.8 579.7 L261.3 571.5 L269.3 552.1 L280.8 526.6 L282.3 521.6 L285.3 504.6 L286.8 498.6 L296.8 473.4 L299.3 465.3 L305.8 430.6 L310.8 398 L316.8 374.7 L320.3 366.7 L329.8 352.2 L336.8 340.4 L339.8 333.2 L343.3 302.1 L348.3 276.5 L350.3 268.4 L353.3 261.1 L361.3 244.9 L371.8 230.5 L374.3 226.2 L381.3 207.1 L383.8 201.5 L399.3 179.7 L401.8 175.2 L402.8 175 M82.3 134.3 L82.8 134.3 L88.3 151.7 L93.8 174.9 L102.3 216.2 L117.3 281.6 L125.8 324.9 L132.3 342.1 L144.8 368 L151.3 383.6 L153.3 389.6 L169.3 474.9 L172.8 497.7 L174.3 503.6 L181.3 522.9 L193.8 544 L197.8 553.2 L204.8 573.6 L214.3 612 L216.3 618.3 L219.3 623.9 L226.8 634.9 L229.8 637.6 L233.8 639.1 L239.3 639.3 L245.3 637.7 L250.8 635 L254.3 631.2 L289.3 547.5 L291.8 539.4 L300.3 500.7 L311.3 457.2 L312.3 449.2 L313.8 427.8 L319.3 391 L320.8 383.6 L323.8 377.5 L341.3 352.8 L344.3 347.8 L346.3 341.7 L355.3 298.1 L366.3 264.9 L369.8 258.2 L388.8 230.1 L399.3 207 L402.3 199 L402.8 199 M82.3 157.6 L86.3 195.1 L93.3 221.8 L100.8 257.9 L107.3 298.7 L109.3 305.6 L118.3 331.6 L124.3 352.5 L130.8 370.8 L134.3 379.2 L142.8 395.4 L145.3 402.6 L149.3 418.8 L152.8 438 L158.3 482.7 L162.3 501.5 L167.3 521.5 L169.8 528 L185.3 559.3 L188.3 566.9 L199.8 620.9 L208.3 653.5 L210.8 661.2 L218.8 678.3 L222.3 684.4 L225.3 688 L231.8 694.2 L234.8 696.6 L236.8 697.7 L239.3 697.7 L242.3 696 L250.8 688.6 L254.8 684.1 L258.3 677.3 L270.3 648.7 L285.8 600.5 L299.8 550.3 L310.3 498.7 L319.8 455.7 L323.8 428.1 L329.8 404.6 L332.8 398.4 L347.3 378.1 L356.3 363.1 L358.8 358.2 L360.3 352 L364.3 309.5 L365.3 304.4 L366.3 301.9 L386.8 271.3 L399.3 249.2 L401.8 243.7 L402.8 243 M82.3 200 L82.8 200.5 L90.3 228.9 L91.8 236.3 L93.8 293.6 L94.8 345 L95.3 347.2 L97.3 351.7 L103.3 360.8 L115.3 375.6 L118.3 380.1 L120.8 386 L128.3 407.6 L129.8 414.5 L133.3 439.4 L135.3 445.3 L141.3 459.8 L142.8 464.9 L146.3 507.1 L149.3 533.5 L165.8 591.8 L176.3 619.7 L181.8 643.2 L189.3 662.6 L195.3 681.6 L215.3 730.2 L222.3 743.2 L225.8 748.6 L230.3 752.8 L236.3 756.2 L239.8 756.9 L243.8 756.4 L248.3 755 L252.3 752.8 L257.3 748.8 L260.8 745.2 L262.8 742.1 L265.3 736.1 L287.3 675.2 L290.8 662.7 L299.8 625 L311.8 579.1 L313.8 569.6 L324.8 504.6 L327.8 478.4 L328.8 474.5 L330.8 470.7 L334.3 466 L353.3 443.6 L357.8 435.7 L362.8 424.3 L364.8 418.1 L367.8 398 L375.3 356.7 L378.3 344.5 L386.3 325.1 L388.8 320.5 L390.8 318.4 L392.8 317.1 L401.3 313 L402.8 313" fill="none" stroke="#fff" stroke-width="1.9" stroke-linejoin="round" mask="url(#lm)"/>
<path d="M82.3 243 H93.6 V410 H129.7 V744 H82.3 Z" fill="#808080"/>
<path d="M82.9 76 V744 M92.8 76 V744 M119.7 76 V744 M144 76 V744 M181 76 V744 M218 76 V744 M255 76 V744 M292 76 V744 M328.4 76 V744 M365.3 76 V744 M402.5 76 V744" stroke="#000" stroke-width="1.8" stroke-dasharray="1.8 1.7" fill="none"/>
<path d="M84.1 81 L93 81.2 L98.9 82.1 L137.7 94 L144.4 95.7 L151.4 96.5 L177.4 98.2 L186.3 97.7 L244.5 90.1 L252.9 89.4 L260.2 90.2 L286.9 97.1 L292.7 97.6 L298.5 96.5 L322 89.4 L327.1 88.7 L329.8 89.3 L332.8 90.6 L359.3 106.9 L365 109.4 L368.3 109.8 L372.2 109.5 L400.9 105.5" fill="none" stroke="#0000ff" stroke-width="3.4" stroke-dasharray="12 11.5"/>
<path d="M83 140.5 L84.5 144.6 L92.6 161.7 L94.5 167.4 L101.9 197.5 L112.4 249.5 L113.9 254.3 L120.8 272.5 L127.3 299.2 L132.9 318.4 L138.5 344.8 L142.8 354.4 L154.5 376.4 L159.6 392.6 L161.7 403.4 L168.1 447 L180.5 493.8 L182.7 498.9 L195.7 525.4 L215.5 577.8 L217.9 583.2 L226 594.6 L229.6 598.6 L233.3 600.6 L242 602.6 L245.3 602.3 L247.5 600.4 L257.8 581 L260.3 575.1 L275.4 533.2 L290.9 502.9 L293.4 496.9 L298.6 479.2 L303 455.1 L308.2 422 L311.3 396.2 L313.4 390.1 L320.7 372.5 L333.6 353.6 L340.3 341.8 L342.1 337.8 L343 332.9 L345.5 302.6 L351.4 274.2 L353.1 268.4 L364.5 245.7 L374.7 232.7 L376.8 229.4 L378.5 225.3 L384.2 207.7 L386.2 203.2 L400.5 182.7 L402.1 180" fill="none" stroke="#ff0000" stroke-width="3.4" stroke-dasharray="12 11.5"/>
</g>
<text x="141" y="98" font-size="19" text-anchor="middle" dominant-baseline="central" transform="rotate(8 141 98)" style="fill:#000">20</text>
<text x="136" y="115" font-size="19" text-anchor="middle" dominant-baseline="central" transform="rotate(-4 136 115)" style="fill:#000">18</text>
<text x="140" y="149" font-size="19" text-anchor="middle" dominant-baseline="central" transform="rotate(-6 140 149)" style="fill:#000">16</text>
<text x="149" y="200" font-size="19" text-anchor="middle" dominant-baseline="central" transform="rotate(-35 149 200)" style="fill:#000">14</text>
<text x="155" y="228" font-size="19" text-anchor="middle" dominant-baseline="central" transform="rotate(-30 155 228)" style="fill:#000">12</text>
<text x="168" y="345" font-size="19" text-anchor="middle" dominant-baseline="central" transform="rotate(58 168 345)" style="fill:#000">10</text>
<text x="163" y="388" font-size="19" text-anchor="middle" dominant-baseline="central" transform="rotate(78 163 388)" style="fill:#000">8</text>
<text x="161" y="441" font-size="19" text-anchor="middle" dominant-baseline="central" transform="rotate(78 161 441)" style="fill:#000">6</text>
<text x="162" y="493" font-size="19" text-anchor="middle" dominant-baseline="central" transform="rotate(80 162 493)" style="fill:#000">4</text>
<text x="163" y="570" font-size="19" text-anchor="middle" dominant-baseline="central" transform="rotate(72 163 570)" style="fill:#000">2</text>
<text transform="translate(75 82.2) scale(1 1.09)" font-size="22" text-anchor="end">0</text>
<text transform="translate(75 165.9) scale(1 1.09)" font-size="22" text-anchor="end">50</text>
<text transform="translate(75 249.6) scale(1 1.09)" font-size="22" text-anchor="end">100</text>
<text transform="translate(75 333.2) scale(1 1.09)" font-size="22" text-anchor="end">150</text>
<text transform="translate(75 416.9) scale(1 1.09)" font-size="22" text-anchor="end">200</text>
<text transform="translate(75 500.6) scale(1 1.09)" font-size="22" text-anchor="end">250</text>
<text transform="translate(75 584.2) scale(1 1.09)" font-size="22" text-anchor="end">300</text>
<text transform="translate(75 667.9) scale(1 1.09)" font-size="22" text-anchor="end">350</text>
<text transform="translate(75 751.5) scale(1 1.09)" font-size="22" text-anchor="end">400</text>
<text transform="translate(143.9 772.5) scale(1 1.09)" font-size="22" text-anchor="middle">130</text>
<text transform="translate(262.2 772.5) scale(1 1.09)" font-size="22" text-anchor="middle">131</text>
<text transform="translate(380.5 772.5) scale(1 1.09)" font-size="22" text-anchor="middle">132</text>
<text x="243" y="810" font-size="26" text-anchor="middle">Longitude (° E)</text>
<text transform="translate(28.5 409.5) rotate(-90)" x="0" y="0" font-size="27.5" text-anchor="middle">Depth (m)</text>
<rect x="92.5" y="681.5" width="216" height="52.5" fill="#fff" stroke="#000" stroke-width="2"/>
<path d="M106.5 695.5 H140.5" stroke="#0000ff" stroke-width="2.6" stroke-dasharray="5.5 3"/>
<path d="M106.5 719.5 H140.5" stroke="#ff0000" stroke-width="2.6" stroke-dasharray="5.5 3"/>
<text x="150" y="701.5" font-size="19.5" style="fill:#000">upper boundary</text>
<text x="150" y="725.5" font-size="19.5" style="fill:#000">lower boundary</text>
<rect x="411.8" y="76" width="18.4" height="668" fill="url(#cb)"/>
<path d="M427 715.6 H430.2" stroke="#333" stroke-width="0.8"/>
<text transform="translate(437 722.8) scale(1 1.09)" font-size="22" text-anchor="start">2</text>
<path d="M427 657.2 H430.2" stroke="#333" stroke-width="0.8"/>
<text transform="translate(437 664.4) scale(1 1.09)" font-size="22" text-anchor="start">4</text>
<path d="M427 598.9 H430.2" stroke="#333" stroke-width="0.8"/>
<text transform="translate(437 606.1) scale(1 1.09)" font-size="22" text-anchor="start">6</text>
<path d="M427 540.5 H430.2" stroke="#333" stroke-width="0.8"/>
<text transform="translate(437 547.7) scale(1 1.09)" font-size="22" text-anchor="start">8</text>
<path d="M427 482.2 H430.2" stroke="#333" stroke-width="0.8"/>
<text transform="translate(437 489.4) scale(1 1.09)" font-size="22" text-anchor="start">10</text>
<path d="M427 423.8 H430.2" stroke="#333" stroke-width="0.8"/>
<text transform="translate(437 431) scale(1 1.09)" font-size="22" text-anchor="start">12</text>
<path d="M427 365.4 H430.2" stroke="#333" stroke-width="0.8"/>
<text transform="translate(437 372.6) scale(1 1.09)" font-size="22" text-anchor="start">14</text>
<path d="M427 307.1 H430.2" stroke="#333" stroke-width="0.8"/>
<text transform="translate(437 314.3) scale(1 1.09)" font-size="22" text-anchor="start">16</text>
<path d="M427 248.7 H430.2" stroke="#333" stroke-width="0.8"/>
<text transform="translate(437 255.9) scale(1 1.09)" font-size="22" text-anchor="start">18</text>
<path d="M427 190.4 H430.2" stroke="#333" stroke-width="0.8"/>
<text transform="translate(437 197.6) scale(1 1.09)" font-size="22" text-anchor="start">20</text>
<path d="M427 132 H430.2" stroke="#333" stroke-width="0.8"/>
<text transform="translate(437 139.2) scale(1 1.09)" font-size="22" text-anchor="start">22</text>
<path d="M427 73.6 H430.2" stroke="#333" stroke-width="0.8"/>
<text transform="translate(437 80.8) scale(1 1.09)" font-size="22" text-anchor="start">24</text>
<text x="411" y="60.5" font-size="17.5" style="fill:#000">°C</text>
<path d="M647.6 75.05 V744.35 M738.8 75.05 V744.35 M829.9 75.05 V744.35 M921 75.05 V744.35 M556.5 75 H921 M556.5 158.7 H921 M556.5 242.4 H921 M556.5 326 H921 M556.5 409.7 H921 M556.5 493.4 H921 M556.5 577 H921 M556.5 660.7 H921" stroke="#eeeeee" stroke-width="1" fill="none"/>
<path d="M556.5 75.05 V744.35 H921" stroke="#858585" stroke-width="1.15" fill="none"/>
<path d="M556.5 744.35 V737.6 M647.6 744.35 V737.6 M738.8 744.35 V737.6 M829.9 744.35 V737.6 M921 744.35 V737.6 M556.5 75 H563.3 M556.5 158.7 H563.3 M556.5 242.4 H563.3 M556.5 326 H563.3 M556.5 409.7 H563.3 M556.5 493.4 H563.3 M556.5 577 H563.3 M556.5 660.7 H563.3 M556.5 744.3 H563.3" stroke="#858585" stroke-width="1.15" fill="none"/>
<text transform="translate(549 82.2) scale(1 1.09)" font-size="22" text-anchor="end">0</text>
<text transform="translate(549 165.9) scale(1 1.09)" font-size="22" text-anchor="end">50</text>
<text transform="translate(549 249.6) scale(1 1.09)" font-size="22" text-anchor="end">100</text>
<text transform="translate(549 333.2) scale(1 1.09)" font-size="22" text-anchor="end">150</text>
<text transform="translate(549 416.9) scale(1 1.09)" font-size="22" text-anchor="end">200</text>
<text transform="translate(549 500.6) scale(1 1.09)" font-size="22" text-anchor="end">250</text>
<text transform="translate(549 584.2) scale(1 1.09)" font-size="22" text-anchor="end">300</text>
<text transform="translate(549 667.9) scale(1 1.09)" font-size="22" text-anchor="end">350</text>
<text transform="translate(549 751.5) scale(1 1.09)" font-size="22" text-anchor="end">400</text>
<text transform="translate(556.5 772.5) scale(1 1.09)" font-size="22" text-anchor="middle">-0.4</text>
<text transform="translate(647.6 772.5) scale(1 1.09)" font-size="22" text-anchor="middle">-0.2</text>
<text transform="translate(738.8 772.5) scale(1 1.09)" font-size="22" text-anchor="middle">0</text>
<text transform="translate(829.9 772.5) scale(1 1.09)" font-size="22" text-anchor="middle">0.2</text>
<text transform="translate(921 772.5) scale(1 1.09)" font-size="22" text-anchor="middle">0.4</text>
<text x="738.5" y="810" font-size="26.5" text-anchor="middle">Temperature trend (°C/yr)</text>
<text transform="translate(501 409.5) rotate(-90)" x="0" y="0" font-size="27.5" text-anchor="middle">Depth (m)</text>
<path d="M643.5 91.8 L725.5 158.7 L754.2 242.4 L778.4 326 L824.4 409.7 L802.5 493.4 L769.3 577 L744.7 744.3" fill="none" stroke="#ff0000" stroke-width="2.2"/>
<path d="M566.5 91.8 L679.5 158.7 L720.5 242.4 L751.5 326 L780.7 409.7 L769.3 493.4 L747 577 L739.7 744.3" fill="none" stroke="#ff0000" stroke-width="2.2" stroke-dasharray="2 2"/>
<path d="M718.7 91.8 L770.2 158.7 L785.5 242.4 L802.1 326 L866.8 409.7 L834.4 493.4 L788.9 577 L748.8 744.3" fill="none" stroke="#ff0000" stroke-width="2.2" stroke-dasharray="2 2"/>
<path d="M1055.7 75.05 V744.35 M1123.3 75.05 V744.35 M1190.9 75.05 V744.35 M1258.5 75.05 V744.35 M1326.1 75.05 V744.35 M1393.7 75.05 V744.35 M1028.7 75 H1393.7 M1028.7 158.7 H1393.7 M1028.7 242.4 H1393.7 M1028.7 326 H1393.7 M1028.7 409.7 H1393.7 M1028.7 493.4 H1393.7 M1028.7 577 H1393.7 M1028.7 660.7 H1393.7" stroke="#eeeeee" stroke-width="1" fill="none"/>
<path d="M1028.7 75.05 V744.35 H1393.7" stroke="#858585" stroke-width="1.15" fill="none"/>
<path d="M1055.7 744.35 V737.6 M1123.3 744.35 V737.6 M1190.9 744.35 V737.6 M1258.5 744.35 V737.6 M1326.1 744.35 V737.6 M1393.7 744.35 V737.6 M1028.7 75 H1035.5 M1028.7 158.7 H1035.5 M1028.7 242.4 H1035.5 M1028.7 326 H1035.5 M1028.7 409.7 H1035.5 M1028.7 493.4 H1035.5 M1028.7 577 H1035.5 M1028.7 660.7 H1035.5 M1028.7 744.3 H1035.5" stroke="#858585" stroke-width="1.15" fill="none"/>
<text transform="translate(1021 82.2) scale(1 1.09)" font-size="22" text-anchor="end">0</text>
<text transform="translate(1021 165.9) scale(1 1.09)" font-size="22" text-anchor="end">50</text>
<text transform="translate(1021 249.6) scale(1 1.09)" font-size="22" text-anchor="end">100</text>
<text transform="translate(1021 333.2) scale(1 1.09)" font-size="22" text-anchor="end">150</text>
<text transform="translate(1021 416.9) scale(1 1.09)" font-size="22" text-anchor="end">200</text>
<text transform="translate(1021 500.6) scale(1 1.09)" font-size="22" text-anchor="end">250</text>
<text transform="translate(1021 584.2) scale(1 1.09)" font-size="22" text-anchor="end">300</text>
<text transform="translate(1021 667.9) scale(1 1.09)" font-size="22" text-anchor="end">350</text>
<text transform="translate(1021 751.5) scale(1 1.09)" font-size="22" text-anchor="end">400</text>
<text transform="translate(1055.7 772.5) scale(1 1.09)" font-size="22" text-anchor="middle">1995</text>
<text transform="translate(1123.3 772.5) scale(1 1.09)" font-size="22" text-anchor="middle">2000</text>
<text transform="translate(1190.9 772.5) scale(1 1.09)" font-size="22" text-anchor="middle">2005</text>
<text transform="translate(1258.5 772.5) scale(1 1.09)" font-size="22" text-anchor="middle">2010</text>
<text transform="translate(1326.1 772.5) scale(1 1.09)" font-size="22" text-anchor="middle">2015</text>
<text transform="translate(1393.7 772.5) scale(1 1.09)" font-size="22" text-anchor="middle">2020</text>
<text x="1211.5" y="806" font-size="26" text-anchor="middle">Year</text>
<text transform="translate(973 409.5) rotate(-90)" x="0" y="0" font-size="27.5" text-anchor="middle">Depth (m)</text>
<path d="M1028.7 130.8 L1393.7 126.4" stroke="#0000ff" stroke-width="2.3" stroke-dasharray="8.6 8.7" fill="none"/>
<path d="M1055.7 110.2 L1069.3 117.9 L1082.8 101.7 L1096.3 113.5 L1109.8 144 L1123.3 110.2 L1136.8 177.6 L1150.4 112.5 L1163.9 153.2 L1177.4 131.9 L1190.9 148.3 L1204.4 157.2 L1218 115 L1231.5 110.5 L1245 121.2 L1258.5 143.3 L1272 118.1 L1285.6 129.8 L1299.1 120.6 L1312.6 130.4 L1326.1 130.8 L1339.6 123.9" fill="none" stroke="#0000ff" stroke-width="2.2" stroke-linejoin="round"/>
<path d="M1380.2 123.6 L1393.7 119.7" fill="none" stroke="#0000ff" stroke-width="2.2" stroke-linejoin="round"/>
<g fill="none" stroke="#0000ff" stroke-width="2.2"><circle cx="1028.7" cy="154.9" r="3.5"/><circle cx="1055.7" cy="110.2" r="3.5"/><circle cx="1069.3" cy="117.9" r="3.5"/><circle cx="1082.8" cy="101.7" r="3.5"/><circle cx="1096.3" cy="113.5" r="3.5"/><circle cx="1109.8" cy="144" r="3.5"/><circle cx="1123.3" cy="110.2" r="3.5"/><circle cx="1136.8" cy="177.6" r="3.5"/><circle cx="1150.4" cy="112.5" r="3.5"/><circle cx="1163.9" cy="153.2" r="3.5"/><circle cx="1177.4" cy="131.9" r="3.5"/><circle cx="1190.9" cy="148.3" r="3.5"/><circle cx="1204.4" cy="157.2" r="3.5"/><circle cx="1218" cy="115" r="3.5"/><circle cx="1231.5" cy="110.5" r="3.5"/><circle cx="1245" cy="121.2" r="3.5"/><circle cx="1258.5" cy="143.3" r="3.5"/><circle cx="1272" cy="118.1" r="3.5"/><circle cx="1285.6" cy="129.8" r="3.5"/><circle cx="1299.1" cy="120.6" r="3.5"/><circle cx="1312.6" cy="130.4" r="3.5"/><circle cx="1326.1" cy="130.8" r="3.5"/><circle cx="1339.6" cy="123.9" r="3.5"/><circle cx="1380.2" cy="123.6" r="3.5"/><circle cx="1393.7" cy="119.7" r="3.5"/></g>
<path d="M1028.7 414.7 L1393.7 560" stroke="#ff0000" stroke-width="2.3" stroke-dasharray="8.6 8.7" fill="none"/>
<path d="M1055.7 425.9 L1069.3 402.3 L1082.8 275.3 L1096.3 432 L1109.8 466.3 L1123.3 567.5 L1136.8 480.3 L1150.4 355.7 L1163.9 533.4 L1177.4 620.7 L1190.9 446.7 L1204.4 483.5 L1218 368.4 L1231.5 465.3 L1245 401.2 L1258.5 430.8 L1272 588.1 L1285.6 512.1 L1299.1 529.7 L1312.6 599.1 L1326.1 600.8 L1339.6 503.9" fill="none" stroke="#ff0000" stroke-width="2.2" stroke-linejoin="round"/>
<path d="M1366.7 559 L1380.2 607.1 L1393.7 508.8" fill="none" stroke="#ff0000" stroke-width="2.2" stroke-linejoin="round"/>
<g fill="none" stroke="#ff0000" stroke-width="2.2"><circle cx="1028.7" cy="518.5" r="3.5"/><circle cx="1055.7" cy="425.9" r="3.5"/><circle cx="1069.3" cy="402.3" r="3.5"/><circle cx="1082.8" cy="275.3" r="3.5"/><circle cx="1096.3" cy="432" r="3.5"/><circle cx="1109.8" cy="466.3" r="3.5"/><circle cx="1123.3" cy="567.5" r="3.5"/><circle cx="1136.8" cy="480.3" r="3.5"/><circle cx="1150.4" cy="355.7" r="3.5"/><circle cx="1163.9" cy="533.4" r="3.5"/><circle cx="1177.4" cy="620.7" r="3.5"/><circle cx="1190.9" cy="446.7" r="3.5"/><circle cx="1204.4" cy="483.5" r="3.5"/><circle cx="1218" cy="368.4" r="3.5"/><circle cx="1231.5" cy="465.3" r="3.5"/><circle cx="1245" cy="401.2" r="3.5"/><circle cx="1258.5" cy="430.8" r="3.5"/><circle cx="1272" cy="588.1" r="3.5"/><circle cx="1285.6" cy="512.1" r="3.5"/><circle cx="1299.1" cy="529.7" r="3.5"/><circle cx="1312.6" cy="599.1" r="3.5"/><circle cx="1326.1" cy="600.8" r="3.5"/><circle cx="1339.6" cy="503.9" r="3.5"/><circle cx="1366.7" cy="559" r="3.5"/><circle cx="1380.2" cy="607.1" r="3.5"/><circle cx="1393.7" cy="508.8" r="3.5"/></g>
<text x="1199.6" y="179" font-size="19" textLength="14.4" lengthAdjust="spacingAndGlyphs" style="fill:#0000ff">−</text>
<text x="1214.8" y="179" font-size="19" textLength="15.2" lengthAdjust="spacingAndGlyphs" style="fill:#0000ff">0.</text>
<text x="1235.7" y="179" font-size="19" textLength="22.5" lengthAdjust="spacingAndGlyphs" style="fill:#0000ff">10</text>
<text x="1263.5" y="179" font-size="19" textLength="14.8" lengthAdjust="spacingAndGlyphs" style="fill:#0000ff">±</text>
<text x="1283.7" y="179" font-size="19" textLength="15.3" lengthAdjust="spacingAndGlyphs" style="fill:#0000ff">0.</text>
<text x="1303.7" y="179" font-size="19" textLength="23.5" lengthAdjust="spacingAndGlyphs" style="fill:#0000ff">51</text>
<text x="1332.6" y="179" font-size="19" textLength="53.4" lengthAdjust="spacingAndGlyphs" style="fill:#0000ff;font-style:italic">m/yr</text>
<text x="1206.7" y="636" font-size="19.5" textLength="16.3" lengthAdjust="spacingAndGlyphs" style="fill:#ff0000">3.</text>
<text x="1227" y="636" font-size="19.5" textLength="23.2" lengthAdjust="spacingAndGlyphs" style="fill:#ff0000">22</text>
<text x="1255.7" y="636" font-size="19.5" textLength="15.3" lengthAdjust="spacingAndGlyphs" style="fill:#ff0000">±</text>
<text x="1275.9" y="636" font-size="19.5" textLength="16.1" lengthAdjust="spacingAndGlyphs" style="fill:#ff0000">2.</text>
<text x="1295.9" y="636" font-size="19.5" textLength="23.3" lengthAdjust="spacingAndGlyphs" style="fill:#ff0000">00</text>
<text x="1324.1" y="636" font-size="19.5" textLength="54.4" lengthAdjust="spacingAndGlyphs" style="fill:#ff0000;font-style:italic">m/yr</text>
<rect x="1224.3" y="219.5" width="155.4" height="45.5" fill="#fff" stroke="#a0a0a0" stroke-width="1"/>
<path d="M1227.6 231.7 H1262" stroke="#0000ff" stroke-width="2"/><circle cx="1244.8" cy="231.7" r="3.6" fill="none" stroke="#0000ff" stroke-width="1.8"/>
<path d="M1227.6 252.5 H1262" stroke="#ff0000" stroke-width="2"/><circle cx="1244.8" cy="252.5" r="3.6" fill="none" stroke="#ff0000" stroke-width="1.8"/>
<text x="1265" y="236.5" font-size="16" style="fill:#000">upper boundary</text>
<text x="1265" y="257.5" font-size="16" style="fill:#000">lower boundary</text>
</svg></body></html>
